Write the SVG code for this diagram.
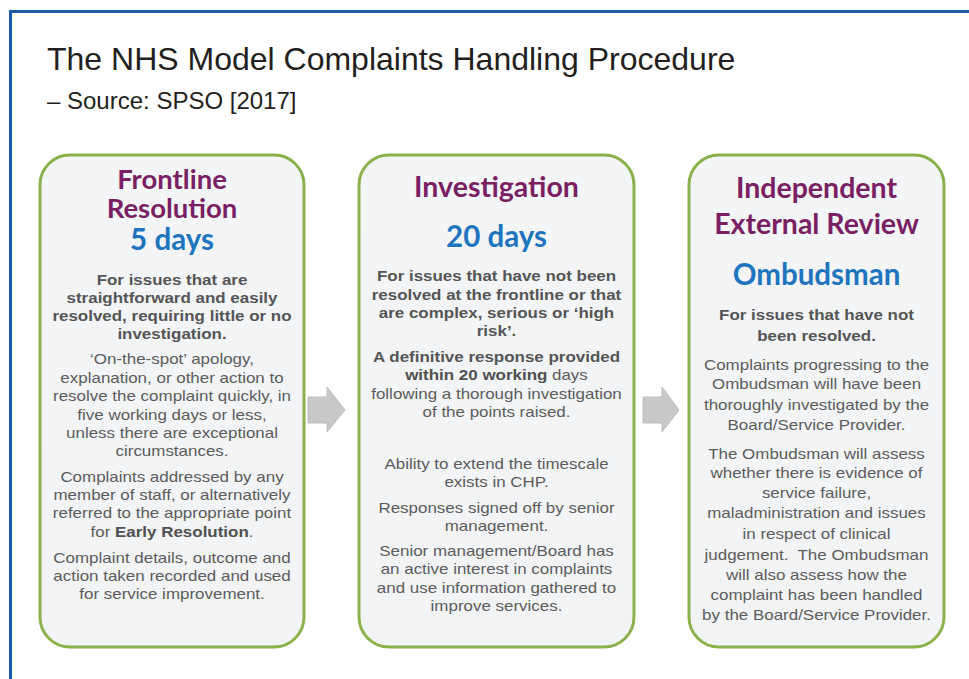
<svg xmlns="http://www.w3.org/2000/svg" width="969" height="679" viewBox="0 0 969 679">
<defs>
<linearGradient id="boxg" x1="0" y1="0" x2="0" y2="1">
<stop offset="0" stop-color="#F3F5F7"/>
<stop offset="1" stop-color="#F1F3F5"/>
</linearGradient>
</defs>
<style>
.box{fill:url(#boxg);stroke:#8CB04C;stroke-width:3}
.h{font-family:Lato,"Open Sans",sans-serif;font-weight:bold;font-size:28.5px;fill:#7A1F63;text-anchor:middle}
.h1{font-size:27.5px}
.d{font-family:Lato,"Open Sans",sans-serif;font-weight:bold;font-size:29.5px;fill:#1F74BE;text-anchor:middle}
.b{font-family:"Liberation Sans",Arial,sans-serif;font-weight:bold;font-size:15px;fill:#555555;text-anchor:middle}
.t{font-family:"Liberation Sans",Arial,sans-serif;font-size:15px;fill:#5C5C5C;text-anchor:middle}
.tb{font-weight:bold;fill:#505050}
.arr{fill:#C8C8C8;stroke:#BDBDBD;stroke-width:1}
.title{font-family:"Liberation Sans",Arial,sans-serif;fill:#231F20}
</style>
<rect x="0" y="0" width="969" height="679" fill="#FFFFFF"/>
<path d="M10.5 679 V11.5 H969" fill="none" stroke="#1C5AA6" stroke-width="3"/>
<text class="title" x="47" y="70" font-size="32">The NHS Model Complaints Handling Procedure</text>
<text class="title" x="47" y="109" font-size="24">– Source: SPSO [2017]</text>

<g id="frontline">
<rect class="box" x="40" y="155" width="264" height="492" rx="30"/>
<text class="h h1" x="172" y="189">Frontline</text>
<text class="h h1" x="172" y="218">Resolution</text>
<text class="d" x="172" y="250">5 days</text>
<g transform="translate(172 0) scale(1.13 1)">
<text class="b" x="0" y="285">For issues that are</text>
<text class="b" x="0" y="303">straightforward and easily</text>
<text class="b" x="0" y="321">resolved, requiring little or no</text>
<text class="b" x="0" y="339">investigation.</text>
<text class="t" x="0" y="364">‘On-the-spot’ apology,</text>
<text class="t" x="0" y="383">explanation, or other action to</text>
<text class="t" x="0" y="401">resolve the complaint quickly, in</text>
<text class="t" x="0" y="420">five working days or less,</text>
<text class="t" x="0" y="438">unless there are exceptional</text>
<text class="t" x="0" y="456">circumstances.</text>
<text class="t" x="0" y="482">Complaints addressed by any</text>
<text class="t" x="0" y="500">member of staff, or alternatively</text>
<text class="t" x="0" y="518">referred to the appropriate point</text>
<text class="t" x="0" y="537">for <tspan class="tb">Early Resolution</tspan>.</text>
<text class="t" x="0" y="563">Complaint details, outcome and</text>
<text class="t" x="0" y="581">action taken recorded and used</text>
<text class="t" x="0" y="599">for service improvement.</text>
</g>
</g>

<g id="investigation">
<rect class="box" x="359" y="155" width="275" height="492" rx="30"/>
<text class="h" x="496.5" y="197">Investigation</text>
<text class="d" x="496.5" y="247">20 days</text>
<g transform="translate(496.5 0) scale(1.13 1)">
<text class="b" x="0" y="281">For issues that have not been</text>
<text class="b" x="0" y="300">resolved at the frontline or that</text>
<text class="b" x="0" y="318">are complex, serious or ‘high</text>
<text class="b" x="0" y="336">risk’.</text>
<text class="b" x="0" y="362">A definitive response provided</text>
<text class="t" x="0" y="380"><tspan class="tb">within 20 working</tspan> days</text>
<text class="t" x="0" y="399">following a thorough investigation</text>
<text class="t" x="0" y="417">of the points raised.</text>
<text class="t" x="0" y="469">Ability to extend the timescale</text>
<text class="t" x="0" y="487">exists in CHP.</text>
<text class="t" x="0" y="513">Responses signed off by senior</text>
<text class="t" x="0" y="531">management.</text>
<text class="t" x="0" y="556">Senior management/Board has</text>
<text class="t" x="0" y="574">an active interest in complaints</text>
<text class="t" x="0" y="593">and use information gathered to</text>
<text class="t" x="0" y="611">improve services.</text>
</g>
</g>

<g id="external">
<rect class="box" x="689" y="155" width="255" height="492" rx="30"/>
<text class="h" x="816.5" y="198">Independent</text>
<text class="h" x="816.5" y="234">External Review</text>
<text class="d" x="816.5" y="285">Ombudsman</text>
<g transform="translate(816.5 0) scale(1.13 1)">
<text class="b" x="0" y="320">For issues that have not</text>
<text class="b" x="0" y="341">been resolved.</text>
<text class="t" x="0" y="370">Complaints progressing to the</text>
<text class="t" x="0" y="389">Ombudsman will have been</text>
<text class="t" x="0" y="410">thoroughly investigated by the</text>
<text class="t" x="0" y="430">Board/Service Provider.</text>
<text class="t" x="0" y="459">The Ombudsman will assess</text>
<text class="t" x="0" y="478">whether there is evidence of</text>
<text class="t" x="0" y="498">service failure,</text>
<text class="t" x="0" y="518">maladministration and issues</text>
<text class="t" x="0" y="539">in respect of clinical</text>
<text class="t" x="0" y="560" xml:space="preserve">judgement.  The Ombudsman</text>
<text class="t" x="0" y="580">will also assess how the</text>
<text class="t" x="0" y="600">complaint has been handled</text>
<text class="t" x="0" y="620">by the Board/Service Provider.</text>
</g>
</g>

<g id="connectors">
<path class="arr" d="M308 397 H327 V387 L345 410 L327 432 V423 H308 Z"/>
<path class="arr" d="M643 397 H662 V387 L679 410 L662 432 V423 H643 Z"/>
</g>
</svg>
